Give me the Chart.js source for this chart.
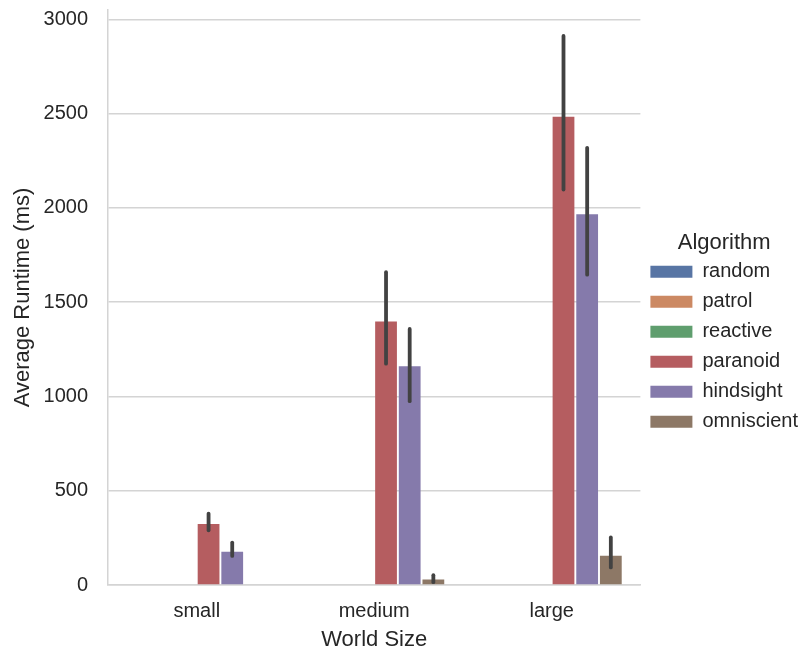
<!DOCTYPE html>
<html>
<head>
<meta charset="utf-8">
<script src="https://cdn.jsdelivr.net/npm/chart.js@4"></script>
<style>
  html, body { margin: 0; padding: 0; background: #fff; }
  #wrap { width: 812px; height: 653px; }
</style>
</head>
<body>
<div id="wrap"><canvas id="runtimeChart" width="812" height="653"></canvas></div>
<script>
// categories and series
const worldSizes = ['small', 'medium', 'large'];
const algorithms = ['random', 'patrol', 'reactive', 'paranoid', 'hindsight', 'omniscient'];

// average runtime in ms, one value per world size
const randomMs     = [0, 0, 0];
const patrolMs     = [0, 0, 0];
const reactiveMs   = [0, 0, 0];
const paranoidMs   = [324, 1398, 2484];
const hindsightMs  = [177, 1160, 1966];
const omniscientMs = [0, 29, 155];

// confidence interval ends (error bars), null = nothing to draw
const paranoidLow    = [290, 1174, 2098];
const paranoidHigh   = [378, 1659, 2912];
const hindsightLow   = [154, 975, 1646];
const hindsightHigh  = [225, 1358, 2319];
const omniscientLow  = [null, 15, 93];
const omniscientHigh = [null, 52, 252];

const yTicks = [0, 500, 1000, 1500, 2000, 2500, 3000];

// seaborn "deep" palette, desaturated like barplot does
const colors = ['#5875A4', '#CC8963', '#5F9E6E', '#B55D60', '#857AAB', '#8D7866'];

const seriesValues = [randomMs, patrolMs, reactiveMs, paranoidMs, hindsightMs, omniscientMs];
const seriesLow  = [null, null, null, paranoidLow, hindsightLow, omniscientLow];
const seriesHigh = [null, null, null, paranoidHigh, hindsightHigh, omniscientHigh];

const textColor = '#262626';
const gridColor = '#d4d4d4';
const fontFamily = '"Liberation Sans", Arial, sans-serif';

// draws the dark CI lines on top of the bars, through the y scale
const errorBars = {
  id: 'errorBars',
  afterDatasetsDraw(chart) {
    const ctx = chart.ctx;
    const y = chart.scales.y;
    ctx.save();
    ctx.strokeStyle = '#424242';
    ctx.lineWidth = 3.8;
    ctx.lineCap = 'round';
    chart.data.datasets.forEach((ds, i) => {
      if (!seriesLow[i]) return;
      const meta = chart.getDatasetMeta(i);
      meta.data.forEach((bar, j) => {
        if (seriesLow[i][j] == null) return;
        const lo = y.getPixelForValue(seriesLow[i][j]);
        const hi = y.getPixelForValue(seriesHigh[i][j]);
        ctx.beginPath();
        ctx.moveTo(bar.x, lo);
        ctx.lineTo(bar.x, hi);
        ctx.stroke();
      });
    });
    ctx.restore();
  }
};

const data = {
  labels: worldSizes,
  datasets: algorithms.map((name, i) => ({
    label: name,
    data: seriesValues[i],
    backgroundColor: colors[i],
    borderWidth: 0,
    categoryPercentage: 0.8,
    barPercentage: 0.92
  }))
};

const config = {
  type: 'bar',
  data: data,
  plugins: [errorBars],
  options: {
    responsive: false,
    animation: false,
    layout: { padding: { top: 10, right: 4, left: 0, bottom: 0 } },
    plugins: {
      tooltip: { enabled: false },
      legend: {
        position: 'right',
        title: {
          display: true,
          text: 'Algorithm',
          color: textColor,
          font: { family: fontFamily, size: 22 },
          padding: { top: 11, bottom: -7 }
        },
        labels: {
          color: textColor,
          font: { family: fontFamily, size: 20 },
          boxWidth: 42,
          boxHeight: 12,
          padding: 10,
          generateLabels(chart) {
            return chart.data.datasets.map((ds, i) => ({
              text: ds.label,
              fillStyle: ds.backgroundColor,
              strokeStyle: ds.backgroundColor,
              lineWidth: 0,
              fontColor: textColor,
              datasetIndex: i
            }));
          }
        }
      }
    },
    scales: {
      x: {
        grid: { display: true, color: 'rgba(0,0,0,0)', drawTicks: false },
        border: { display: true, color: gridColor, width: 1.5 },
        ticks: { color: textColor, font: { family: fontFamily, size: 20 }, padding: 14 },
        title: {
          display: true,
          text: 'World Size',
          color: textColor,
          font: { family: fontFamily, size: 22 },
          padding: { top: 0, bottom: 0 }
        },
        afterFit(scale) { scale.height = 68; }
      },
      y: {
        min: 0,
        max: 3050,
        grid: { color: gridColor, lineWidth: 1.5, drawTicks: false },
        border: { display: true, color: gridColor, width: 1.5 },
        ticks: {
          color: textColor,
          font: { family: fontFamily, size: 20 },
          padding: 20,
          callback: (v) => String(v)
        },
        afterBuildTicks(scale) {
          scale.ticks = yTicks.map(v => ({ value: v }));
        },
        title: {
          display: true,
          text: 'Average Runtime (ms)',
          color: textColor,
          font: { family: fontFamily, size: 22 },
          padding: { top: 10, bottom: 0 }
        },
        afterFit(scale) {
          scale.width = 108;
          scale.paddingTop = 0;
          scale.paddingBottom = 0;
        }
      }
    }
  }
};

const myChart = new Chart(document.getElementById('runtimeChart'), config);
</script>
</body>
</html>
